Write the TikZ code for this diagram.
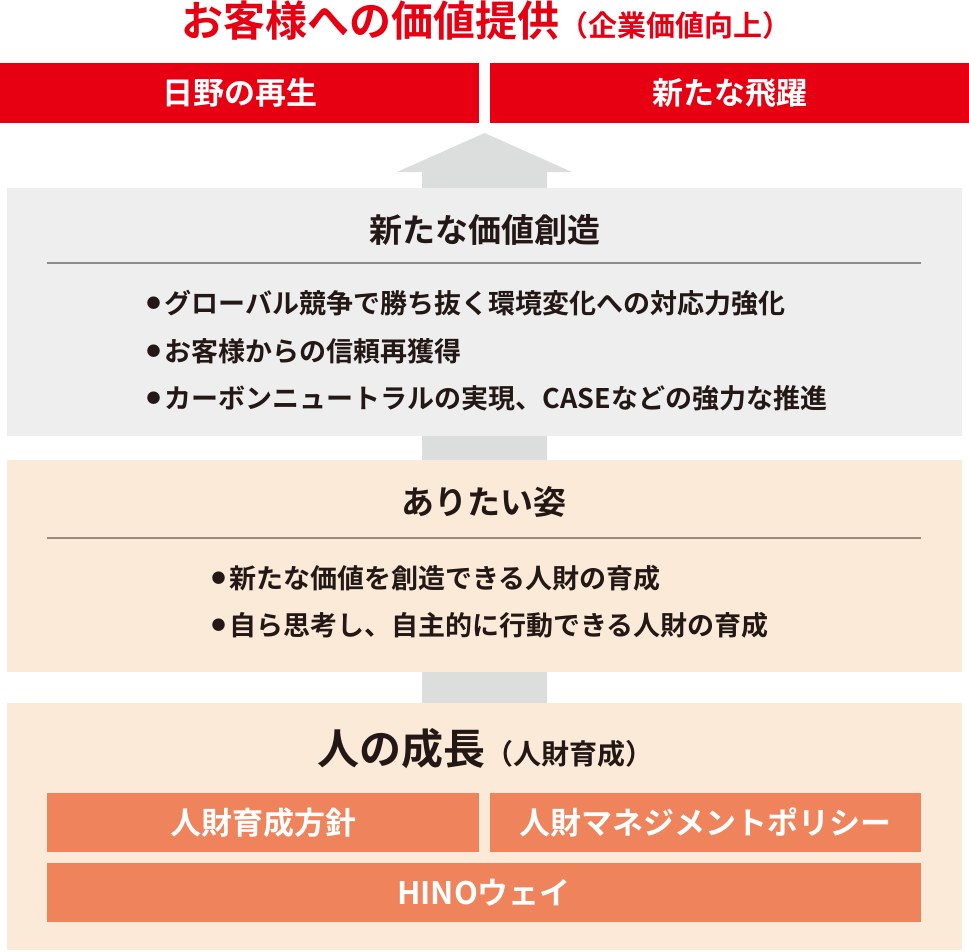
\documentclass[tikz,border=0pt]{standalone}
\usepackage{fontspec}
\setmainfont{Noto Sans CJK JP}[BoldFont={* Bold}]
\usepackage{xcolor}
\definecolor{hinored}{HTML}{E60012}
\definecolor{panelgray}{HTML}{EEEEEE}
\definecolor{arrowgray}{HTML}{DCDDDD}
\definecolor{panelbeige}{HTML}{FBEAD7}
\definecolor{tileorange}{HTML}{EF845C}
\definecolor{inkdark}{HTML}{231815}
\definecolor{rulegray}{HTML}{8A8A8A}
\definecolor{rulebrown}{HTML}{9B8B7E}
\newcommand{\fsz}[1]{\fontsize{#1}{#1}\selectfont}
\newcommand{\bul}{\raisebox{4.5pt}{\fsz{14}●}\hspace{4pt}}

\begin{document}
\begin{tikzpicture}[
            x = 1pt, y = -1pt, % pixel grid, y down
            font = \bfseries,
            box/.style = {inner sep=0pt, outer sep=0pt, anchor=north west},
            redbox/.style = {box, fill=hinored, minimum width=479pt, minimum height=60pt},
            tile/.style = {box, fill=tileorange, minimum height=59pt},
            heading/.style = {text=inkdark, font=\bfseries\fsz{33}},
            item/.style = {text=inkdark, anchor=west, font=\bfseries\fsz{27}},
            label/.style = {text=white, font=\bfseries\fsz{31}}
        ]
\useasboundingbox (0,0) rectangle (969,951);

% big arrow behind the panels
\fill[arrowgray] (422,703) -- (422,172) -- (397,172) -- (484.5,133)
    -- (572,172) -- (547,172) -- (547,703) -- cycle;

% top
\node[text=hinored, font=\bfseries\fsz{42}] (goal) at (486,21) {お客様への価値提供{\fsz{29}（企業価値向上）}};
\node[redbox] (rebirth) at (0,63) {};
\node[redbox] (leap) at (490,63) {};
\node[label] at (rebirth.center) {日野の再生};
\node[label] at (leap.center) {新たな飛躍};

% panel 1
\node[box, fill=panelgray, minimum width=955pt, minimum height=248pt] (create) at (7,188) {};
\node[heading] (createT) at (485,230) {新たな価値創造};
\coordinate (ruleAa) at (47,263);
\coordinate (ruleAb) at (921,263);
\draw[rulegray, line width=1.5pt] (ruleAa) -- (ruleAb);
\node[item] (c1) at (143,303) {\bul グローバル競争で勝ち抜く環境変化への対応力強化};
\node[item] (c2) at (143,351) {\bul お客様からの信頼再獲得};
\node[item] (c3) at (143,398) {\bul カーボンニュートラルの実現、CASEなどの強力な推進};

% panel 2
\node[box, fill=panelbeige, minimum width=955pt, minimum height=212pt] (ideal) at (7,460) {};
\node[heading] (idealT) at (484,502) {ありたい姿};
\coordinate (ruleBa) at (47,538);
\coordinate (ruleBb) at (921,538);
\draw[rulebrown, line width=1.5pt] (ruleBa) -- (ruleBb);
\node[item] (i1) at (208,578) {\bul 新たな価値を創造できる人財の育成};
\node[item] (i2) at (208,625) {\bul 自ら思考し、自主的に行動できる人財の育成};

% panel 3
\node[box, fill=panelbeige, minimum width=955pt, minimum height=247pt] (growth) at (7,703) {};
\node[text=inkdark, font=\bfseries\fsz{42}] (growthT) at (485,749) {人の成長{\fsz{28}（人財育成）}};
\node[tile, minimum width=432pt] (policy) at (47,793) {};
\node[tile, minimum width=431pt] (mgmt) at (490,793) {};
\node[tile, minimum width=874pt] (way) at (47,863) {};
\node[label] at (policy.center) {人財育成方針};
\node[label] at (mgmt.center) {人財マネジメントポリシー};
\node[label] at (way.center) {HINOウェイ};
\end{tikzpicture}
\end{document}
